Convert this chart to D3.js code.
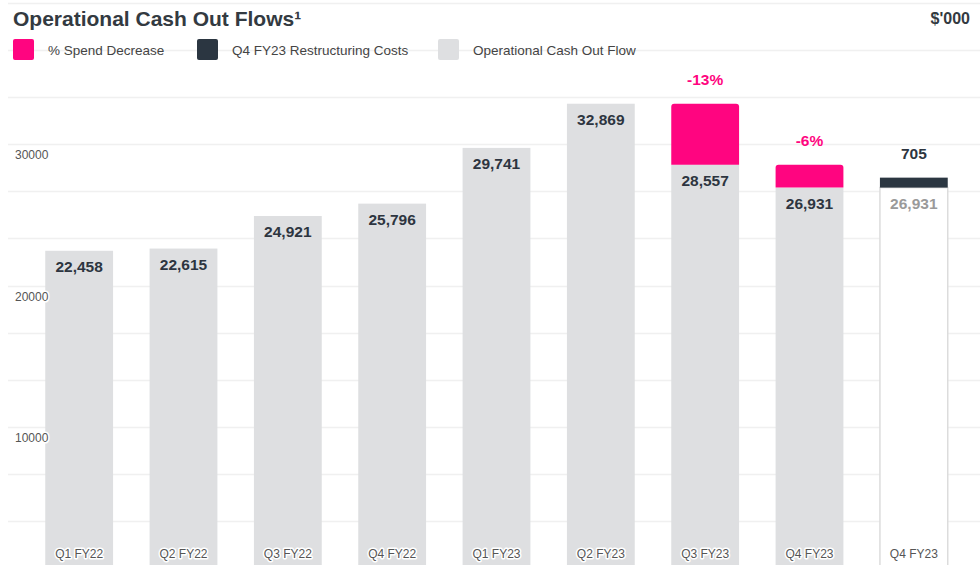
<!DOCTYPE html>
<html>
<head>
<meta charset="utf-8">
<script src="https://d3js.org/d3.v7.min.js"></script>
<style>
  body { margin: 0; background: #fff; }
  svg { display: block; font-family: "Liberation Sans", Arial, sans-serif; }
</style>
</head>
<body>
<div id="vis"></div>
<script>
// quarters on the x axis
var quarters = ["Q1 FY22", "Q2 FY22", "Q3 FY22", "Q4 FY22", "Q1 FY23", "Q2 FY23", "Q3 FY23", "Q4 FY23", "Q4 FY23 "];
// operational cash out flow ($'000)
var cashOut = [22458, 22615, 24921, 25796, 29741, 32869, 28557, 26931, 26931];
// % spend decrease stack (difference to previous quarter)
var spendDecrease = [0, 0, 0, 0, 0, 0, 4312, 1626, 0];
var spendLabels = ["", "", "", "", "", "", "-13%", "-6%", ""];
// restructuring costs stack
var restructuring = [0, 0, 0, 0, 0, 0, 0, 0, 705];
var yTickLabels = [10000, 20000, 30000];
var legendItems = ["% Spend Decrease", "Q4 FY23 Restructuring Costs", "Operational Cash Out Flow"];

var width = 980, height = 565;
var pink = "#ff0580", dark = "#2b3641", grey = "#dedfe1";

var svg = d3.select("#vis").append("svg")
  .attr("width", width)
  .attr("height", height);

var x = d3.scaleBand()
  .domain(quarters)
  .range([27, 966])
  .paddingInner(0.35)
  .paddingOuter(0.175);

var y = d3.scaleLinear()
  .domain([0, 40000])
  .range([568, 3]);

// faint gridlines
var grid = d3.range(0, 40001, 10000 / 3);
svg.append("g").selectAll("line")
  .data(grid)
  .join("line")
  .attr("x1", 8)
  .attr("x2", width)
  .attr("y1", function(d) { return Math.round(y(d)) + 0.5; })
  .attr("y2", function(d) { return Math.round(y(d)) + 0.5; })
  .attr("stroke", "#f0f0f0")
  .attr("stroke-width", 1.5);

// main bars
var last = quarters.length - 1;
svg.append("g").selectAll("rect")
  .data(cashOut)
  .join("rect")
  .attr("x", function(d, i) { return x(quarters[i]); })
  .attr("y", function(d) { return y(d); })
  .attr("width", x.bandwidth())
  .attr("height", function(d) { return y(0) - y(d); })
  .attr("fill", function(d, i) { return i == last ? "#fff" : grey; })
  .attr("stroke", function(d, i) { return i == last ? "#dcdcdc" : "none"; })
  .attr("stroke-width", 1.5);

// pink spend decrease stacks (rounded top)
function topRounded(x0, y0, w, h, r) {
  return "M" + x0 + "," + (y0 + h) + "V" + (y0 + r) + "Q" + x0 + "," + y0 + " " + (x0 + r) + "," + y0 +
    "H" + (x0 + w - r) + "Q" + (x0 + w) + "," + y0 + " " + (x0 + w) + "," + (y0 + r) + "V" + (y0 + h) + "Z";
}
svg.append("g").selectAll("path")
  .data(spendDecrease)
  .join("path")
  .filter(function(d) { return d > 0; })
  .attr("d", function(d) {
    var idx = spendDecrease.indexOf(d);
    var y1 = y(cashOut[idx] + d), y0 = y(cashOut[idx]);
    return topRounded(x(quarters[idx]), y1, x.bandwidth(), y0 - y1, 3);
  })
  .attr("fill", pink);

// restructuring stack
svg.append("g").selectAll("rect")
  .data(restructuring)
  .join("rect")
  .filter(function(d) { return d > 0; })
  .attr("x", function(d) { return x(quarters[restructuring.indexOf(d)]); })
  .attr("y", function(d) { return y(cashOut[restructuring.indexOf(d)] + d); })
  .attr("width", x.bandwidth())
  .attr("height", function(d) { var i = restructuring.indexOf(d); return y(cashOut[i]) - y(cashOut[i] + d); })
  .attr("fill", dark);

// value labels inside bars
svg.append("g").selectAll("text")
  .data(cashOut)
  .join("text")
  .attr("x", function(d, i) { return x(quarters[i]) + x.bandwidth() / 2; })
  .attr("y", function(d) { return y(d) + 21; })
  .attr("text-anchor", "middle")
  .attr("font-size", 15.5)
  .attr("font-weight", "bold")
  .attr("fill", function(d, i) { return i == last ? "#9a9a9a" : "#2d3540"; })
  .text(function(d) { return d3.format(",")(d); });

// labels above stacks
svg.append("g").selectAll("text")
  .data(quarters)
  .join("text")
  .filter(function(d, i) { return spendLabels[i] != "" || restructuring[i] > 0; })
  .attr("x", function(d) { return x(d) + x.bandwidth() / 2; })
  .attr("y", function(d) {
    var i = quarters.indexOf(d);
    return y(cashOut[i] + spendDecrease[i] + restructuring[i]) - 19;
  })
  .attr("text-anchor", "middle")
  .attr("font-size", 15.5)
  .attr("font-weight", "bold")
  .attr("fill", function(d) { return restructuring[quarters.indexOf(d)] > 0 ? "#2d3540" : pink; })
  .text(function(d) {
    var i = quarters.indexOf(d);
    return restructuring[i] > 0 ? restructuring[i] : spendLabels[i];
  });

// y axis labels with white halo
svg.append("g").selectAll("text")
  .data(yTickLabels)
  .join("text")
  .attr("x", 15)
  .attr("y", function(d) { return y(d) + 15; })
  .attr("font-size", 12)
  .attr("fill", "#555")
  .attr("stroke", "#fff")
  .attr("stroke-width", 3)
  .attr("stroke-linejoin", "round")
  .attr("paint-order", "stroke")
  .text(function(d) { return d; });

// x axis labels
svg.append("g").selectAll("text")
  .data(quarters)
  .join("text")
  .attr("x", function(d) { return x(d) + x.bandwidth() / 2; })
  .attr("y", 558)
  .attr("text-anchor", "middle")
  .attr("font-size", 12)
  .attr("fill", "#555")
  .attr("stroke", "#fff")
  .attr("stroke-width", 3)
  .attr("stroke-linejoin", "round")
  .attr("paint-order", "stroke")
  .text(function(d) { return d.trim(); });

// title
svg.append("text")
  .attr("x", 13)
  .attr("y", 26)
  .attr("font-size", 21)
  .attr("font-weight", "bold")
  .attr("fill", "#333a41")
  .text("Operational Cash Out Flows\u00b9");

svg.append("text")
  .attr("x", 970)
  .attr("y", 24)
  .attr("text-anchor", "end")
  .attr("font-size", 16)
  .attr("font-weight", "bold")
  .attr("fill", "#333a41")
  .text("$'000");

// legend
var legendX = [13, 197, 438];
var legendColors = [pink, dark, grey];
var legend = svg.append("g").selectAll("g")
  .data(legendItems)
  .join("g")
  .attr("transform", function(d, i) { return "translate(" + legendX[i] + ",39)"; });
legend.append("rect")
  .attr("width", 21)
  .attr("height", 21)
  .attr("rx", 2)
  .attr("fill", function(d, i) { return legendColors[i]; });
legend.append("text")
  .attr("x", 35)
  .attr("y", 15.5)
  .attr("font-size", 13.5)
  .attr("fill", "#444")
  .text(function(d) { return d; });
</script>
</body>
</html>
